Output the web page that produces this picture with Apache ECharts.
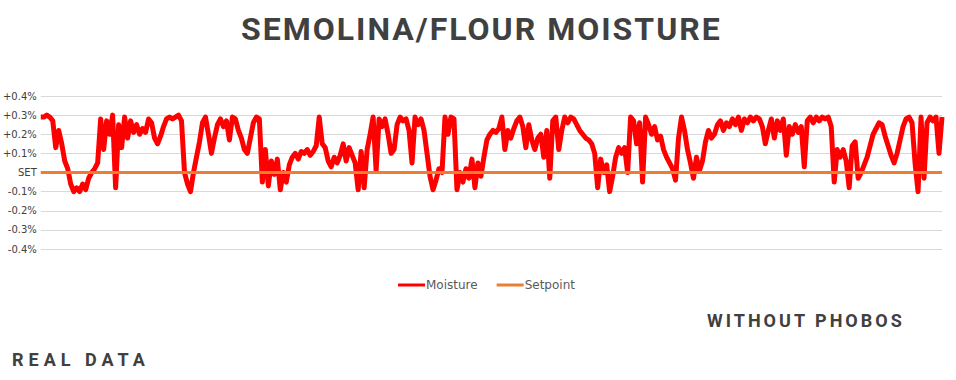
<!DOCTYPE html>
<html><head><meta charset="utf-8">
<script src="https://cdn.jsdelivr.net/npm/echarts@6/dist/echarts.min.js"></script>
<style>html,body{margin:0;padding:0;background:#fff}#c{width:956px;height:380px}</style>
</head><body><div id="c"></div>
<script>
const titleText = "SEMOLINA/FLOUR MOISTURE";
const noteRight = "WITHOUT PHOBOS";
const noteLeft = "REAL DATA";
const seriesNames = ["Moisture", "Setpoint"];
const yTicks = [-0.4, -0.3, -0.2, -0.1, 0, 0.1, 0.2, 0.3, 0.4];
const moisture = [
0.29,0.29,0.30,0.29,0.27,0.13,0.22,0.15,0.06,0.02,
-0.06,-0.10,-0.08,-0.10,-0.06,-0.09,-0.03,0.00,0.02,0.05,
0.28,0.12,0.27,0.20,0.30,-0.08,0.25,0.13,0.29,0.18,
0.27,0.21,0.25,0.20,0.23,0.21,0.28,0.26,0.18,0.15,
0.19,0.24,0.28,0.29,0.28,0.29,0.30,0.27,0.00,-0.06,
-0.10,0.00,0.08,0.16,0.26,0.29,0.20,0.10,0.18,0.25,
0.28,0.24,0.27,0.17,0.29,0.28,0.22,0.18,0.12,0.10,
0.18,0.26,0.29,0.28,-0.05,0.12,-0.07,0.06,-0.01,0.07,
-0.09,0.00,-0.05,0.04,0.08,0.10,0.07,0.11,0.10,0.12,
0.09,0.11,0.14,0.29,0.15,0.13,0.06,0.03,0.08,0.05,
0.09,0.15,0.06,0.13,0.09,0.05,-0.09,0.11,-0.08,0.12,
0.20,0.29,0.01,0.28,0.24,0.28,0.20,0.10,0.12,0.25,
0.29,0.27,0.28,0.22,0.05,0.29,0.25,0.28,0.22,0.10,
-0.02,-0.09,-0.04,0.02,0.00,0.29,0.20,0.29,0.28,-0.09,
0.00,-0.05,0.02,-0.03,0.07,-0.08,0.05,-0.02,0.08,0.17,
0.20,0.22,0.21,0.23,0.29,0.12,0.22,0.18,0.23,0.27,
0.29,0.24,0.13,0.25,0.17,0.12,0.18,0.20,0.08,0.22,
-0.03,0.27,0.29,0.12,0.22,0.29,0.26,0.29,0.28,0.25,
0.22,0.20,0.18,0.17,0.15,0.10,-0.08,0.07,0.00,0.04,
-0.10,-0.02,0.08,0.13,0.10,0.13,0.00,0.29,0.27,0.15,
0.26,-0.05,0.29,0.25,0.20,0.24,0.17,0.19,0.12,0.08,
0.05,0.02,-0.04,0.18,0.29,0.22,0.12,0.05,-0.03,0.08,
0.01,0.06,0.16,0.22,0.18,0.20,0.25,0.27,0.22,0.26,
0.24,0.28,0.25,0.29,0.22,0.28,0.26,0.29,0.27,0.29,
0.28,0.24,0.15,0.22,0.28,0.18,0.27,0.22,0.28,0.09,
0.24,0.20,0.25,0.21,0.24,0.03,0.27,0.29,0.26,0.29,
0.27,0.29,0.28,0.29,0.24,-0.05,0.12,0.08,0.12,0.06,
-0.08,0.14,0.16,-0.03,0.00,0.04,0.08,0.14,0.20,0.23,
0.26,0.25,0.19,0.14,0.09,0.05,0.10,0.17,0.24,0.28,
0.29,0.26,0.05,-0.10,0.29,-0.03,0.26,0.29,0.27,0.29,
0.10,0.29
];
const categories = moisture.map((_, i) => String(i + 1));
const setpoint = moisture.map(() => 0);

const chart = echarts.init(document.getElementById('c'), null, {renderer: 'svg', width: 956, height: 380});
const fmt = v => {
  const r = Math.round(v * 10) / 10;
  if (r === 0) return 'SET';
  return (r > 0 ? '+' : '-') + Math.abs(r).toFixed(1) + '%';
};
chart.setOption({
  animation: false,
  backgroundColor: '#ffffff',
  grid: {left: 40, right: 14, top: 96, bottom: 131},
  graphic: [
    {type: 'text', id: 't1', left: 241, top: 13, style: {text: titleText, fill: '#404040', font: 'bold 32px Roboto'}},
    {type: 'text', id: 't2', left: 707, top: 311, style: {text: noteRight, fill: '#404040', font: 'bold 18px Roboto'}},
    {type: 'text', id: 't3', left: 12, top: 350, style: {text: noteLeft, fill: '#404040', font: 'bold 18px Roboto'}}
  ],
  legend: {
    left: 393, top: 274, itemWidth: 27, itemHeight: 3, itemGap: 19, icon: 'rect',
    textStyle: {fontFamily: 'DejaVu Sans', fontSize: 12, color: '#595959', padding: [0, 0, 0, -4]},
    data: seriesNames
  },
  xAxis: {
    type: 'category', data: categories, boundaryGap: false,
    axisLine: {show: false}, axisTick: {show: false}, axisLabel: {show: false}, splitLine: {show: false}
  },
  yAxis: {
    type: 'value', min: yTicks[0], max: yTicks[yTicks.length - 1], interval: 0.1,
    axisLine: {show: false}, axisTick: {show: false},
    axisLabel: {formatter: fmt, fontFamily: 'DejaVu Sans', fontSize: 10, color: '#404040', margin: 4},
    splitLine: {lineStyle: {color: '#d9d9d9', width: 1}}
  },
  series: [
    {name: seriesNames[0], type: 'line', data: moisture, showSymbol: false, symbol: 'none',
     lineStyle: {color: '#ff0000', width: 5, join: 'round'}, itemStyle: {color: '#ff0000'}, z: 3},
    {name: seriesNames[1], type: 'line', data: setpoint, showSymbol: false, symbol: 'none',
     lineStyle: {color: '#ed7d31', width: 3}, itemStyle: {color: '#ed7d31'}, z: 4}
  ]
});
function spacing() {
  const map = {};
  map[titleText] = '2px'; map[noteRight] = '3px'; map[noteLeft] = '5px';
  document.querySelectorAll('#c text').forEach(t => {
    const s = map[t.textContent];
    if (s) t.style.letterSpacing = s;
  });
}
spacing();
chart.on('finished', spacing);
setTimeout(spacing, 0);
</script></body></html>
